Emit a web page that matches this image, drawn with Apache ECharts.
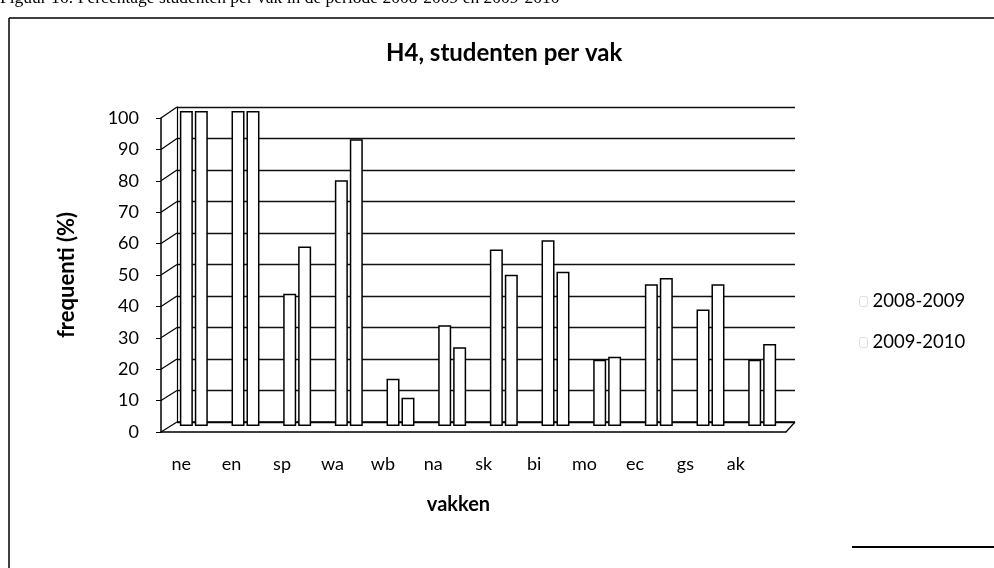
<!DOCTYPE html>
<html>
<head>
<meta charset="utf-8">
<script src="https://cdn.jsdelivr.net/npm/echarts@6/dist/echarts.min.js"></script>
<style>html,body{margin:0;padding:0;background:#fff;}#c{width:994px;height:568px;}</style>
</head>
<body>
<div id="c"></div>
<script>
const categories = ['ne','en','sp','wa','wb','na','sk','bi','mo','ec','gs','ak'];
const series2008 = [100,100,42,78,15,32,56,59,21,45,37,21];
const series2009 = [100,100,57,91,9,25,48,49,22,47,45,26];
const seriesNames = ['2008-2009','2009-2010'];
const yMin = 0, yMax = 100, yStep = 10;
const yTicks = [0,10,20,30,40,50,60,70,80,90,100];

const FONT = 'Lato, "Open Sans", sans-serif';
const chart = echarts.init(document.getElementById('c'), null, {renderer:'canvas'});

const barStyle = {color:'#fff', borderColor:'#000', borderWidth:1.5};

chart.setOption({
  animation:false,
  backgroundColor:'#fff',
  title:{text:'H4, studenten per vak', left:381, top:36,
    textStyle:{fontFamily:FONT, fontSize:24, fontWeight:'bold', color:'#000'}},
  legend:{orient:'vertical', left:854, top:287, itemWidth:8, itemHeight:10, itemGap:22,
    data:seriesNames,
    itemStyle:{color:'#fff', borderColor:'#ddd', borderWidth:1},
    textStyle:{fontFamily:FONT, fontSize:18.5, color:'#000'}},
  grid:[
    {left:161, top:118, width:625, height:314},
    {left:156, top:118, width:605, height:314},
    {left:177, top:107, width:618, height:315},
    {left:168, top:111, width:620, height:315}
  ],
  xAxis:[
    {gridIndex:0, type:'value', min:0, max:1, axisLine:{show:true, lineStyle:{color:'#000', width:1.5}},
      axisTick:{show:false}, axisLabel:{show:false}, splitLine:{show:false}},
    {gridIndex:1, type:'category', data:categories, axisLine:{show:false}, axisTick:{show:false},
      axisLabel:{fontFamily:FONT, fontSize:18, color:'#000', margin:23},
      name:'vakken', nameLocation:'middle', nameGap:63,
      nameTextStyle:{fontFamily:FONT, fontSize:20, fontWeight:'bold', color:'#000'}},
    {gridIndex:2, type:'value', min:0, max:1, show:false},
    {gridIndex:3, type:'category', data:categories, show:false}
  ],
  yAxis:[
    {gridIndex:0, type:'value', min:yMin, max:yMax, interval:yStep,
      axisLine:{show:true, lineStyle:{color:'#000', width:1.5}},
      axisTick:{show:true, length:5, lineStyle:{color:'#000'}},
      axisLabel:{fontFamily:FONT, fontSize:18, color:'#000', margin:22,
        formatter: v => yTicks.includes(v) ? String(v) : ''},
      splitLine:{show:false},
      name:'frequenti (%)', nameLocation:'middle', nameGap:83,
      nameTextStyle:{fontFamily:FONT, fontSize:22, fontWeight:'bold', color:'#000'}},
    {gridIndex:1, type:'value', min:yMin, max:yMax, show:false},
    {gridIndex:2, type:'value', min:yMin, max:yMax, interval:yStep,
      axisLine:{show:true, lineStyle:{color:'#000', width:1.2}},
      axisTick:{show:false}, axisLabel:{show:false},
      splitLine:{show:true, lineStyle:{color:'#111', width:1.3}}},
    {gridIndex:3, type:'value', min:yMin, max:yMax, show:false}
  ],
  series:[
    {name:seriesNames[0], type:'bar', xAxisIndex:3, yAxisIndex:3, data:series2008,
      barWidth:13, barGap:'15%', itemStyle:barStyle, z:5},
    {name:seriesNames[1], type:'bar', xAxisIndex:3, yAxisIndex:3, data:series2009,
      barWidth:13, barGap:'15%', itemStyle:barStyle, z:5}
  ]
});

// 3D decorative wall lines derived from the axes' scales
const g = [];
yTicks.forEach(v => {
  const yf = chart.convertToPixel({yAxisIndex:0}, v);
  const yb = chart.convertToPixel({yAxisIndex:2}, v);
  const xf = chart.convertToPixel({xAxisIndex:0}, 0);
  const xb = chart.convertToPixel({xAxisIndex:2}, 0);
  g.push({type:'line', shape:{x1:xf, y1:yf, x2:xb, y2:yb}, style:{stroke:'#000', lineWidth:1.2}, z:10});
});
{
  const xf = chart.convertToPixel({xAxisIndex:0}, 1);
  const xb = chart.convertToPixel({xAxisIndex:2}, 1);
  const yf = chart.convertToPixel({yAxisIndex:0}, 0);
  const yb = chart.convertToPixel({yAxisIndex:2}, 0);
  g.push({type:'line', shape:{x1:xf, y1:yf, x2:xb, y2:yb}, style:{stroke:'#000', lineWidth:1.2}, z:10});
  const x0 = chart.convertToPixel({xAxisIndex:2}, 0);
  g.push({type:'line', shape:{x1:x0, y1:yb, x2:xb, y2:yb}, style:{stroke:'#000', lineWidth:1.3}, z:1});
}
// frame and caption
g.push({type:'line', shape:{x1:9, y1:18, x2:994, y2:18}, style:{stroke:'#000', lineWidth:1.5}});
g.push({type:'line', shape:{x1:9, y1:18, x2:9, y2:568}, style:{stroke:'#000', lineWidth:1.5}});
g.push({type:'line', shape:{x1:852, y1:547, x2:994, y2:547}, style:{stroke:'#000', lineWidth:2}});
g.push({type:'text', left:0, top:-11, style:{text:'Figuur 16: Percentage studenten per vak in de periode 2008-2009 en 2009-2010',
  font:'17.5px "Liberation Serif", serif', fill:'#000'}});
chart.setOption({graphic:g});
</script>
</body>
</html>
